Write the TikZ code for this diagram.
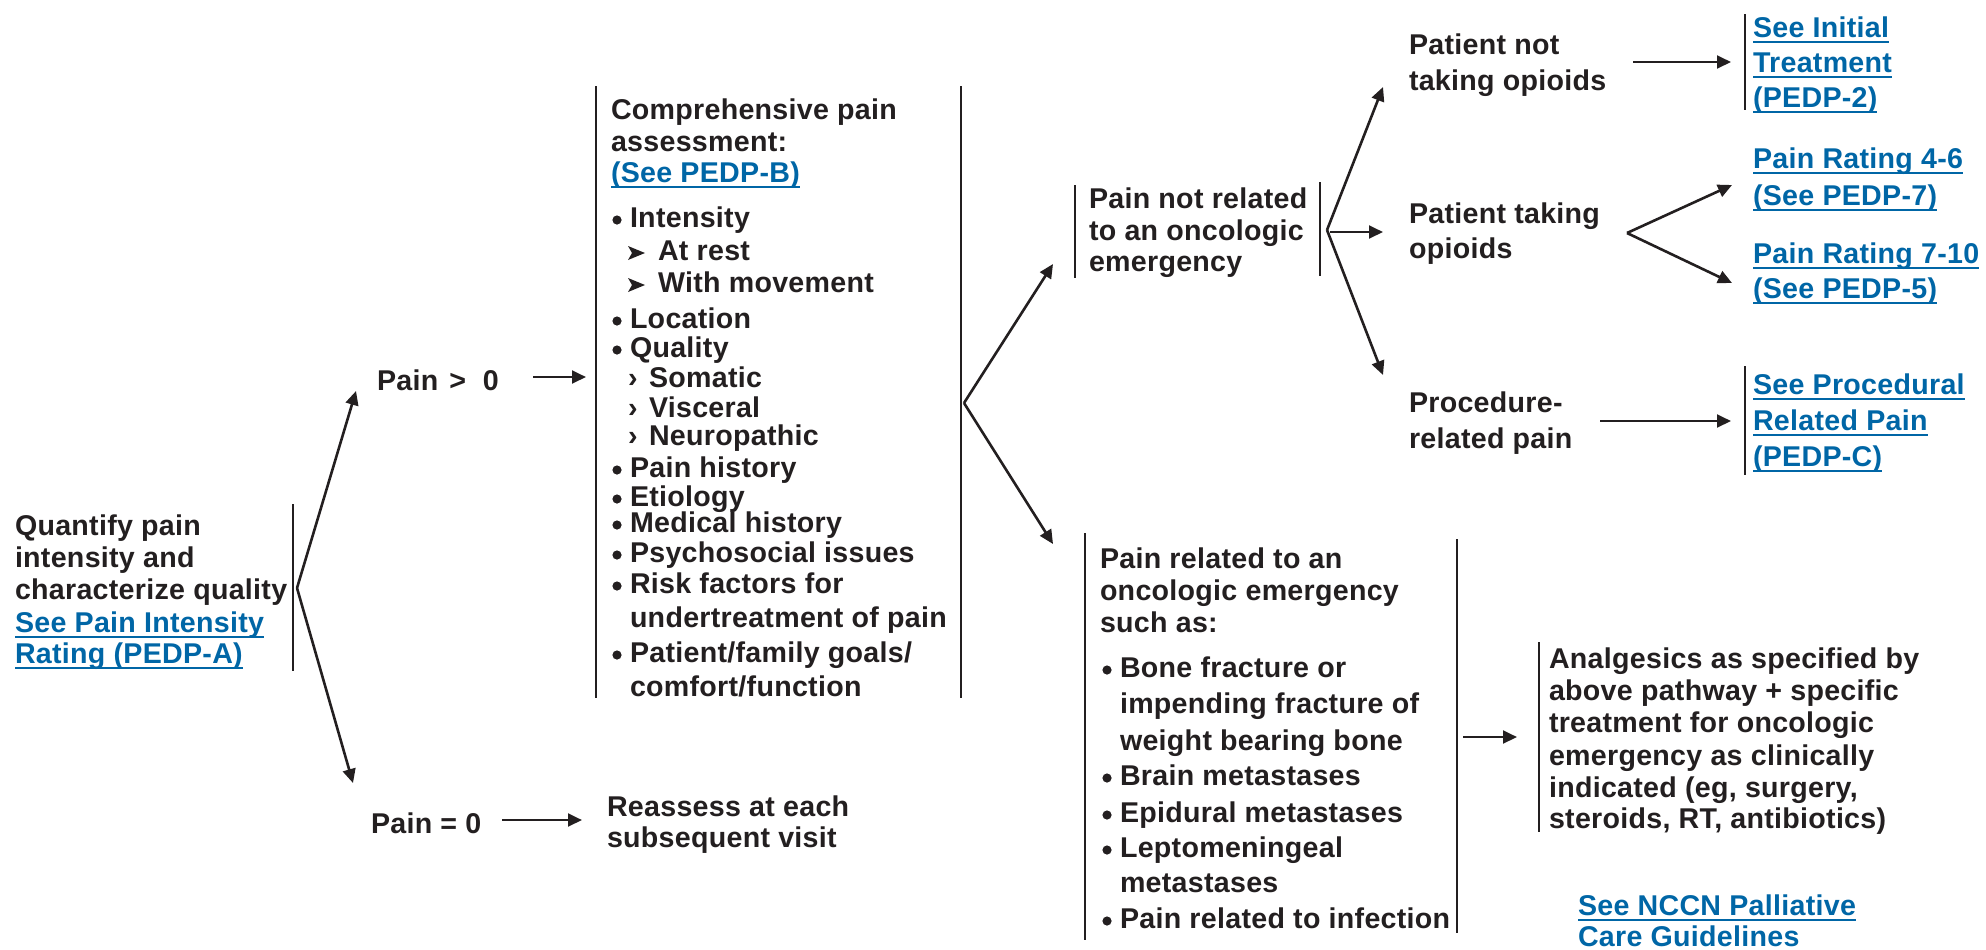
\documentclass[tikz,border=0pt]{standalone}
\usepackage{fontspec}
\usetikzlibrary{arrows.meta}
\newfontfamily\diagfont{Liberation Sans}[LetterSpace=1]
\definecolor{ink}{HTML}{231F20}
\definecolor{linkblue}{RGB}{0,102,166}
\begin{document}
\begin{tikzpicture}[x=0.5bp, y=-0.5bp,
  txt/.style={anchor=base west, inner sep=0pt, outer sep=0pt, text=ink,
    font=\diagfont\bfseries\fontsize{14.3bp}{16bp}\selectfont},
  link/.style={txt, text=linkblue,
    append after command={\pgfextra{\let\lastlinknode\tikzlastnode}
      ([yshift=-2.3bp]\lastlinknode.base west)
      edge[draw=linkblue, line width=1bp]
      ([yshift=-2.3bp]\lastlinknode.base east)}},
  bar/.style={draw=ink, line width=1.4bp},
  arr/.style={draw=ink, line width=1.3bp, -{Triangle[length=7bp,width=6.4bp]}},
  dot/.style={circle, fill=ink, inner sep=0pt, minimum size=4.6bp},
  chev/.style={fill=ink}]
\useasboundingbox (0,0) rectangle (1986,949);

% ---------- starting point ----------
\node[txt]  (q1) at (15,535) {Quantify pain};
\node[txt]  (q2) at (15,567) {intensity and};
\node[txt]  (q3) at (15,599) {characterize quality};
\node[link] (q4) at (15,632) {See Pain Intensity};
\node[link] (q5) at (15,663) {Rating (PEDP-A)};
\draw[bar] (293,504) -- (293,671);
\coordinate (v0) at (297,588);
\coordinate (v0up) at (356,391);
\coordinate (v0dn) at (353,783);

% ---------- pain > 0 ----------
\node[txt] (gt) at (377,390) {Pain\hspace{5.5bp}>\hspace{8.5bp}0};
\coordinate (gtA) at (533,377);
\coordinate (gtB) at (586,377);

% ---------- comprehensive assessment ----------
\draw[bar] (596,86) -- (596,698);
\draw[bar] (961,86) -- (961,698);
\node[txt]  (c1) at (611,119) {Comprehensive pain};
\node[txt]  (c2) at (611,151) {assessment:};
\node[link] (c3) at (611,182) {(See PEDP-B)};
\node[dot] (d1) at (617,220) {};
\node[txt]  (c4) at (630,227) {Intensity};
\fill[chev] (628,246) -- (645,253) -- (628,260) -- (632,253) -- cycle;
\node[txt]  (c5) at (658,260) {At rest};
\fill[chev] (628,278) -- (645,285) -- (628,292) -- (632,285) -- cycle;
\node[txt]  (c6) at (658,292) {With movement};
\node[dot] (d2) at (617,321) {};
\node[txt]  (c7) at (630,328) {Location};
\node[dot] (d3) at (617,350) {};
\node[txt]  (c8) at (630,357) {Quality};
\node[txt]  (s1) at (628,387) {›};
\node[txt]  (c9) at (649,387) {Somatic};
\node[txt]  (s2) at (628,417) {›};
\node[txt]  (c10) at (649,417) {Visceral};
\node[txt]  (s3) at (628,445) {›};
\node[txt]  (c11) at (649,445) {Neuropathic};
\node[dot] (d4) at (617,470) {};
\node[txt]  (c12) at (630,477) {Pain history};
\node[dot] (d5) at (617,499) {};
\node[txt]  (c13) at (630,506) {Etiology};
\node[dot] (d6) at (617,525) {};
\node[txt]  (c14) at (630,532) {Medical history};
\node[dot] (d7) at (617,555) {};
\node[txt]  (c15) at (630,562) {Psychosocial issues};
\node[dot] (d8) at (617,586) {};
\node[txt]  (c16) at (630,593) {Risk factors for};
\node[txt]  (c17) at (630,627) {undertreatment of pain};
\node[dot] (d9) at (617,655) {};
\node[txt]  (c18) at (630,662) {Patient/family goals/};
\node[txt]  (c19) at (630,696) {comfort/function};
\coordinate (v1) at (964,403);
\coordinate (v1up) at (1053,264);
\coordinate (v1dn) at (1053,544);

% ---------- pain = 0 ----------
\node[txt] (eq) at (371,833) {Pain = 0};
\coordinate (eqA) at (502,820);
\coordinate (eqB) at (582,820);
\node[txt] (r1) at (607,816) {Reassess at each};
\node[txt] (r2) at (607,847) {subsequent visit};

% ---------- not an emergency ----------
\draw[bar] (1075,185) -- (1075,278);
\node[txt] (n1) at (1089,208) {Pain not related};
\node[txt] (n2) at (1089,240) {to an oncologic};
\node[txt] (n3) at (1089,271) {emergency};
\draw[bar] (1320,182) -- (1320,276);
\coordinate (v2) at (1327,230);
\coordinate (v2up) at (1383,87);
\coordinate (v2mid) at (1383,232);
\coordinate (v2dn) at (1383,375);
\coordinate (v2midA) at (1330,232);

% ---------- not taking opioids ----------
\node[txt] (p1) at (1409,54) {Patient not};
\node[txt] (p2) at (1409,90) {taking opioids};
\coordinate (pA) at (1633,62);
\coordinate (pB) at (1731,62);
\draw[bar] (1745,14) -- (1745,110);
\node[link] (i1) at (1753,37) {See Initial};
\node[link] (i2) at (1753,72) {Treatment};
\node[link] (i3) at (1753,107) {(PEDP-2)};

% ---------- taking opioids ----------
\node[txt] (t1) at (1409,223) {Patient taking};
\node[txt] (t2) at (1409,258) {opioids};
\coordinate (tv) at (1627,233);
\coordinate (tup) at (1732,185);
\coordinate (tdn) at (1732,283);
\node[link] (k1) at (1753,168) {Pain Rating 4-6};
\node[link] (k2) at (1753,205) {(See PEDP-7)};
\node[link] (k3) at (1753,263) {Pain Rating 7-10};
\node[link] (k4) at (1753,298) {(See PEDP-5)};

% ---------- procedure-related ----------
\node[txt] (pr1) at (1409,412) {Procedure-};
\node[txt] (pr2) at (1409,448) {related pain};
\coordinate (prA) at (1600,421);
\coordinate (prB) at (1731,421);
\draw[bar] (1745,366) -- (1745,475);
\node[link] (pl1) at (1753,394) {See Procedural};
\node[link] (pl2) at (1753,430) {Related Pain};
\node[link] (pl3) at (1753,466) {(PEDP-C)};

% ---------- oncologic emergency ----------
\draw[bar] (1085,533) -- (1085,940);
\draw[bar] (1457,539) -- (1457,933);
\node[txt] (e1) at (1100,568) {Pain related to an};
\node[txt] (e2) at (1100,600) {oncologic emergency};
\node[txt] (e3) at (1100,632) {such as:};
\node[dot] (f1) at (1107,670) {};
\node[txt] (e4) at (1120,677) {Bone fracture or};
\node[txt] (e5) at (1120,713) {impending fracture of};
\node[txt] (e6) at (1120,750) {weight bearing bone};
\node[dot] (f2) at (1107,778) {};
\node[txt] (e7) at (1120,785) {Brain metastases};
\node[dot] (f3) at (1107,815) {};
\node[txt] (e8) at (1120,822) {Epidural metastases};
\node[dot] (f4) at (1107,850) {};
\node[txt] (e9) at (1120,857) {Leptomeningeal};
\node[txt] (e10) at (1120,892) {metastases};
\node[dot] (f5) at (1107,921) {};
\node[txt] (e11) at (1120,928) {Pain related to infection};
\coordinate (eA) at (1463,737);
\coordinate (eB) at (1517,737);

\draw[bar] (1539,642) -- (1539,832);
\node[txt] (a1) at (1549,668) {Analgesics as specified by};
\node[txt] (a2) at (1549,700) {above pathway + specific};
\node[txt] (a3) at (1549,732) {treatment for oncologic};
\node[txt] (a4) at (1549,765) {emergency as clinically};
\node[txt] (a5) at (1549,797) {indicated (eg, surgery,};
\node[txt] (a6) at (1549,828) {steroids, RT, antibiotics)};
\node[link] (g1) at (1578,915) {See NCCN Palliative};
\node[link] (g2) at (1578,946) {Care Guidelines};

% ---------- connectors ----------
\draw[arr] (v0) -- (v0up);
\draw[arr] (v0) -- (v0dn);
\draw[arr] (gtA) -- (gtB);
\draw[arr] (eqA) -- (eqB);
\draw[arr] (v1) -- (v1up);
\draw[arr] (v1) -- (v1dn);
\draw[arr] (v2) -- (v2up);
\draw[arr] (v2midA) -- (v2mid);
\draw[arr] (v2) -- (v2dn);
\draw[arr] (pA) -- (pB);
\draw[arr] (tv) -- (tup);
\draw[arr] (tv) -- (tdn);
\draw[arr] (prA) -- (prB);
\draw[arr] (eA) -- (eB);
\end{tikzpicture}
\end{document}
